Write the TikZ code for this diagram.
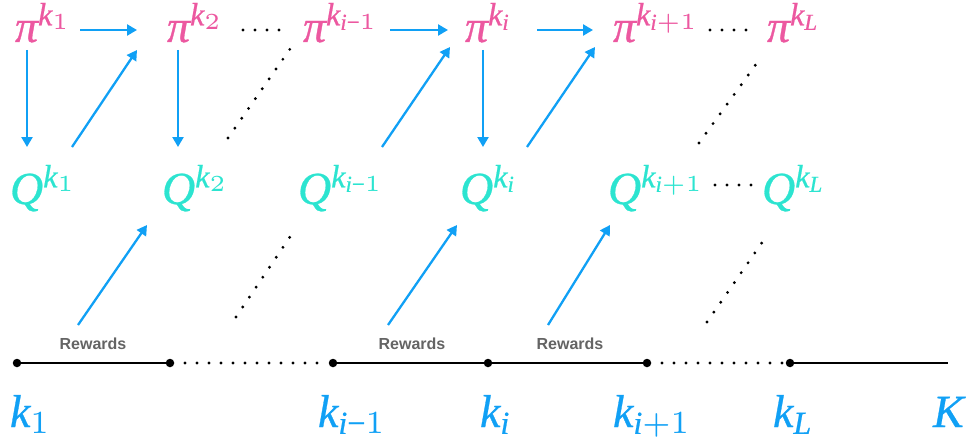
\documentclass[tikz,border=0pt]{standalone}
\usepackage{fontspec}
\newfontfamily\rwfont{Liberation Sans}
\newfontfamily\lsfam{Liberation Serif}[NFSSFamily=lserif, FakeBold=0.6]
\DeclareSymbolFont{lsit}{TU}{lserif}{m}{it}
\DeclareSymbolFont{lsrm}{TU}{lserif}{m}{n}
\Umathcode`k=0 \symlsit `k
\Umathcode`i=0 \symlsit `i
\Umathcode`L=0 \symlsit `L
\Umathcode`Q=0 \symlsit `Q
\Umathcode`K=0 \symlsit `K
\Umathcode`1=0 \symlsrm `1
\Umathcode`2=0 \symlsrm `2
\Umathcode`-=2 \symlsrm "2212
\Umathcode`+=2 \symlsrm `+
\Umathchardef\lpi=0 \symlsit "03C0
\usetikzlibrary{arrows.meta}
\definecolor{piC}{RGB}{236,88,160}
\definecolor{qC}{RGB}{44,228,208}
\definecolor{blC}{RGB}{16,160,245}
\definecolor{rwC}{RGB}{100,100,100}
\tikzset{
  mnode/.style={inner sep=0pt, outer sep=0pt, anchor=base west, scale=4.6, font=\fontsize{10}{12}\selectfont},
  pinode/.style={mnode, text=piC},
  qnode/.style={mnode, text=qC},
  knode/.style={mnode, text=blC},
  arr/.style={draw=blC, line width=2.3pt, -{Triangle[length=10pt,width=11pt]}},
  dotline/.style={draw=black, line width=3.2pt, line cap=round, dash pattern=on 0pt off 12pt},
  tline/.style={draw=black, line width=2.4pt},
  tdot/.style={circle, fill=black, inner sep=0pt, minimum size=8.5pt},
  rwlabel/.style={inner sep=0pt, text=rwC, font=\rwfont\bfseries\fontsize{16}{18}\selectfont}
}
\begin{document}
\begin{tikzpicture}[x=1pt,y=-1pt]
\useasboundingbox (0,0) rectangle (969,444);
% policy row
\node[pinode] (p1)  at (15,42)  {$\lpi^{k_1}$};
\node[pinode] (p2)  at (167,42) {$\lpi^{k_2}$};
\node[pinode] (pim) at (303,42) {$\lpi^{k_{i-1}}$};
\node[pinode] (pi)  at (465,42) {$\lpi^{k_i}$};
\node[pinode] (pip) at (613,42) {$\lpi^{k_{i+1}}$};
\node[pinode] (pL)  at (767,42) {$\lpi^{k_L}$};
% Q row
\node[qnode] (q1)  at (10,204)  {$Q^{k_1}$};
\node[qnode] (q2)  at (162,204) {$Q^{k_2}$};
\node[qnode] (qim) at (298,204) {$Q^{k_{i-1}}$};
\node[qnode] (qi)  at (460,204) {$Q^{k_i}$};
\node[qnode] (qip) at (608,204) {$Q^{k_{i+1}}$};
\node[qnode] (qL)  at (762,204) {$Q^{k_L}$};
% bottom labels
\node[knode] (b1)  at (10,427)  {$k_1$};
\node[knode] (bim) at (318,427) {$k_{i-1}$};
\node[knode] (bi)  at (480,427) {$k_i$};
\node[knode] (bip) at (613,427) {$k_{i+1}$};
\node[knode] (bL)  at (773,427) {$k_L$};
\node[knode] (bK)  at (933,427) {$K$};
% timeline
\node[tdot] (t1) at (17,363) {};
\node[tdot] (t2) at (170,363) {};
\node[tdot] (t3) at (333,363) {};
\node[tdot] (t4) at (488,363) {};
\node[tdot] (t5) at (647,363) {};
\node[tdot] (t6) at (790,363) {};
\coordinate (tend) at (948,363);
\draw[tline] (t1) -- (t2);
\draw[dotline] ([xshift=15pt]t2.center) -- ([xshift=-6pt]t3.center);
\draw[tline] (t3) -- (t4) -- (t5);
\draw[dotline] ([xshift=15pt]t5.center) -- ([xshift=-6pt]t6.center);
\draw[tline] (t6) -- (tend);
% rewards
\node[rwlabel] (r1) at (93,344)  {Rewards};
\node[rwlabel] (r2) at (412,344) {Rewards};
\node[rwlabel] (r3) at (570,344) {Rewards};
% horizontal arrows
\draw[arr] ([shift={(65,-12)}]p1.base west) -- ([shift={(-30,-12)}]p2.base west);
\draw[arr] ([shift={(87,-12)}]pim.base west) -- ([shift={(-17,-12)}]pi.base west);
\draw[arr] ([shift={(72,-12)}]pi.base west) -- ([shift={(-20,-12)}]pip.base west);
% vertical arrows
\draw[arr] ([shift={(12,8)}]p1.base west) -- ([shift={(17,-57)}]q1.base west);
\draw[arr] ([shift={(11,8)}]p2.base west) -- ([shift={(16,-57)}]q2.base west);
\draw[arr] ([shift={(18,8)}]pi.base west) -- ([shift={(23,-57)}]qi.base west);
% diagonal Q -> pi
\draw[arr] ([shift={(62,-57)}]q1.base west) -- ([shift={(-30,8)}]p2.base west);
\draw[arr] ([shift={(84,-57)}]qim.base west) -- ([shift={(-15,5)}]pi.base west);
\draw[arr] ([shift={(67,-57)}]qi.base west) -- ([shift={(-18,5)}]pip.base west);
% rewards -> Q
\draw[arr] ([shift={(-15,-19)}]r1.center) -- ([shift={(-15,21)}]q2.base west);
\draw[arr] ([shift={(-24,-19)}]r2.center) -- ([shift={(-3,21)}]qi.base west);
\draw[arr] ([shift={(-22,-19)}]r3.center) -- ([shift={(2,21)}]qip.base west);
% dotted connectors
\draw[dotline] ([shift={(76,-12)}]p2.base west) -- ([shift={(-23,-12)}]pim.base west);
\draw[dotline] ([shift={(97,-12)}]pip.base west) -- ([shift={(-20,-12)}]pL.base west);
\draw[dotline] ([shift={(107,-19)}]qip.base west) -- ([shift={(-11,-19)}]qL.base west);
\draw[dotline] ([shift={(66,-66)}]q2.base west) -- ([shift={(-13,7)}]pim.base west);
\draw[dotline] ([shift={(-63,-61)}]qL.base west) -- ([shift={(-5,14)}]pL.base west);
\draw[dotline] ([shift={(-97,-46)}]t3.center) -- ([shift={(-2,24)}]qim.base west);
\draw[dotline] ([shift={(-83,-41)}]t6.center) -- ([shift={(6,30)}]qL.base west);
\end{tikzpicture}
\end{document}
